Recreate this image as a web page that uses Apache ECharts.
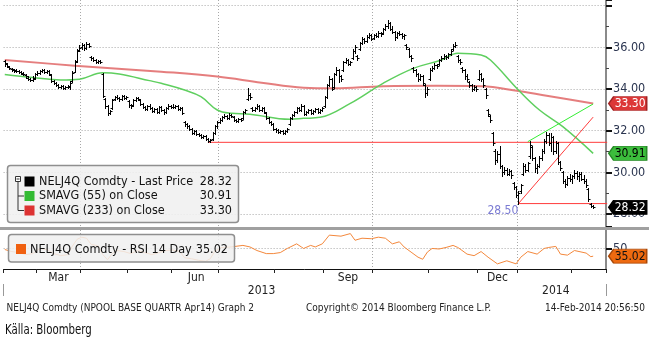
<!DOCTYPE html>
<html><head><meta charset="utf-8">
<script src="https://cdn.jsdelivr.net/npm/echarts@6/dist/echarts.min.js"></script>
<style>html,body{margin:0;padding:0;background:#fff}#c{width:649px;height:340px}</style>
</head><body><div id="c"></div>
<script>
// ---- calendar (trading days per month) ----
const monthNames = ['Feb','Mar','Apr','May','Jun','Jul','Aug','Sep','Oct','Nov','Dec','Jan','Feb'];
const monthYears = [2013,2013,2013,2013,2013,2013,2013,2013,2013,2013,2013,2014,2014];
const monthDays  = [14,19,20,19,20,24,21,21,24,21,17,23,10];
const padDays = 5;
const labelMonths = ['Mar','Jun','Sep','Dec'];
const gridQuarterMonths = ['Apr','Jul','Oct','Jan'];
const yearLabels = ['2013','2014'];

// ---- daily bars [open, high, low, close] ----
const feb13 = [[35.35,35.4,35.1,35.25],[35.2,35.25,35.05,35.1],[35.05,35.1,34.95,35.0],[34.95,35.0,34.85,34.95],[34.9,34.95,34.8,34.9],[34.85,34.95,34.8,34.85],[34.85,34.9,34.75,34.8],[34.8,34.85,34.7,34.75],[34.7,34.8,34.65,34.7],[34.65,34.7,34.55,34.6],[34.55,34.6,34.45,34.5],[34.5,34.55,34.4,34.45],[34.45,34.6,34.4,34.5],[34.55,34.75,34.5,34.7]];
const mar13 = [[34.7,34.85,34.65,34.75],[34.75,34.9,34.7,34.85],[34.85,34.95,34.8,34.9],[34.9,34.95,34.75,34.8],[34.8,34.9,34.75,34.85],[34.85,34.9,34.65,34.7],[34.65,34.7,34.35,34.4],[34.4,34.45,34.25,34.3],[34.3,34.35,34.15,34.2],[34.2,34.25,34.05,34.1],[34.1,34.2,34.05,34.15],[34.15,34.2,34.0,34.05],[34.05,34.15,34.0,34.1],[34.1,34.2,34.05,34.15],[34.1,34.4,34.0,34.3],[34.4,34.85,34.35,34.75],[34.8,35.4,34.8,35.3],[35.35,35.9,35.3,35.8],[35.85,36.1,35.8,35.95]];
const apr13 = [[36.0,36.2,35.9,36.1],[36.1,36.15,35.85,35.95],[35.95,36.25,35.9,36.15],[36.15,36.2,36.0,36.05],[35.55,35.6,35.4,35.5],[35.5,35.55,35.35,35.4],[35.4,35.45,35.25,35.3],[35.3,35.4,35.25,35.35],[35.35,35.4,35.25,35.3],[34.7,34.75,33.6,33.65],[33.5,33.55,33.1,33.2],[33.2,33.25,32.75,32.85],[32.85,33.0,32.8,32.95],[33.1,33.5,33.05,33.45],[33.5,33.65,33.45,33.6],[33.6,33.7,33.5,33.55],[33.55,33.6,33.4,33.5],[33.5,33.7,33.45,33.65],[33.65,33.7,33.5,33.55],[33.55,33.65,33.5,33.6]];
const may13 = [[33.4,33.45,33.15,33.25],[33.25,33.3,33.1,33.2],[33.25,33.5,33.2,33.45],[33.45,33.6,33.4,33.55],[33.55,33.6,33.45,33.5],[33.45,33.5,33.25,33.3],[33.3,33.35,33.1,33.15],[33.15,33.2,33.0,33.05],[33.05,33.25,33.0,33.2],[33.2,33.3,33.05,33.1],[33.1,33.15,32.9,32.95],[32.95,33.1,32.9,33.05],[33.05,33.1,32.85,32.9],[32.9,33.2,32.85,33.15],[33.15,33.2,32.95,33.0],[33.0,33.05,32.8,32.9],[32.9,33.15,32.85,33.1],[33.1,33.3,33.05,33.2],[33.2,33.25,33.1,33.15]];
const jun13 = [[33.15,33.3,33.1,33.15],[33.15,33.25,33.1,33.2],[33.2,33.25,33.0,33.05],[33.05,33.15,33.0,33.1],[33.1,33.15,32.8,32.85],[32.4,32.45,32.2,32.3],[32.3,32.35,32.15,32.2],[32.2,32.25,32.05,32.1],[32.1,32.15,31.85,31.9],[31.9,32.05,31.85,32.0],[32.0,32.05,31.8,31.85],[31.85,31.9,31.75,31.8],[31.8,31.85,31.65,31.7],[31.7,31.8,31.65,31.75],[31.75,31.8,31.55,31.6],[31.6,31.65,31.45,31.5],[31.5,31.6,31.45,31.55],[31.6,31.95,31.55,31.9],[31.9,32.25,31.85,32.2],[32.2,32.45,32.15,32.4]];
const jul13 = [[32.4,32.6,32.35,32.5],[32.5,32.7,32.45,32.65],[32.65,32.8,32.6,32.7],[32.7,32.75,32.55,32.6],[32.6,32.85,32.55,32.75],[32.75,32.8,32.65,32.7],[32.65,32.7,32.45,32.5],[32.5,32.55,32.4,32.45],[32.45,32.6,32.4,32.55],[32.55,32.6,32.45,32.5],[32.6,32.95,32.55,32.9],[32.9,33.05,32.85,33.0],[33.5,34.05,33.45,33.7],[33.7,33.8,33.5,33.6],[33.1,33.15,32.95,33.0],[33.0,33.15,32.95,33.1],[33.1,33.3,33.05,33.2],[33.2,33.25,32.95,33.0],[33.0,33.15,32.95,33.1],[33.1,33.15,32.85,32.9],[32.85,32.9,32.55,32.6],[32.6,32.65,32.35,32.4],[32.4,32.45,32.25,32.3],[32.3,32.35,32.05,32.1]];
const aug13 = [[32.1,32.15,31.95,32.05],[32.05,32.1,31.9,31.95],[31.95,32.05,31.9,32.0],[32.0,32.05,31.85,31.9],[31.9,32.05,31.85,32.0],[32.0,32.15,31.95,32.1],[32.3,32.65,32.25,32.6],[32.6,32.8,32.55,32.75],[32.75,32.95,32.7,32.9],[32.9,33.15,32.85,33.1],[33.1,33.15,32.95,33.0],[33.0,33.3,32.95,33.2],[33.2,33.25,32.75,32.8],[32.8,32.95,32.75,32.9],[32.9,33.05,32.85,33.0],[33.0,33.05,32.8,32.85],[32.85,33.0,32.8,32.95],[32.95,33.1,32.9,33.05],[33.05,33.1,32.85,32.9],[32.9,33.05,32.85,33.0],[33.0,33.15,32.95,33.1]];
const sep13 = [[33.2,33.65,33.15,33.6],[33.6,34.25,33.55,34.2],[34.2,34.6,34.15,34.5],[34.5,34.55,33.95,34.0],[34.1,34.75,34.05,34.7],[34.7,35.05,34.65,34.9],[34.9,34.95,34.35,34.6],[34.6,34.65,34.4,34.5],[34.9,35.35,34.85,35.3],[35.3,35.5,35.25,35.4],[35.4,35.45,35.15,35.2],[35.2,35.35,35.15,35.3],[35.5,35.9,35.45,35.8],[35.8,36.1,35.75,36.0],[35.6,35.65,35.4,35.5],[35.9,36.25,35.85,36.2],[36.2,36.5,36.15,36.4],[36.4,36.45,36.2,36.3],[36.3,36.6,36.25,36.5],[36.5,36.7,36.45,36.6],[36.6,36.65,36.35,36.4]];
const oct13 = [[36.45,36.65,36.4,36.6],[36.6,36.7,36.5,36.55],[36.55,36.8,36.5,36.7],[36.7,36.75,36.55,36.65],[36.7,36.95,36.65,36.9],[36.9,37.1,36.85,37.0],[37.0,37.3,36.95,37.15],[37.15,37.2,36.85,36.9],[36.9,37.0,36.7,36.75],[36.75,36.8,36.35,36.5],[36.5,36.75,36.45,36.7],[36.7,36.8,36.6,36.65],[36.65,36.7,36.45,36.55],[36.55,36.65,36.4,36.6],[36.1,36.15,35.9,36.0],[35.9,35.95,35.55,35.6],[35.6,35.65,35.35,35.5],[35.0,35.05,34.8,34.9],[34.9,34.95,34.6,34.7],[34.7,34.75,34.4,34.5],[34.5,34.7,34.45,34.6],[34.6,34.65,34.2,34.3],[34.2,34.25,33.6,33.8],[33.8,34.1,33.7,34.0]];
const nov13 = [[34.5,35.0,34.45,34.9],[34.9,35.1,34.85,35.0],[35.0,35.25,34.95,35.15],[35.15,35.2,35.0,35.1],[35.2,35.45,35.15,35.4],[35.4,35.6,35.35,35.5],[35.5,35.7,35.45,35.6],[35.6,35.65,35.45,35.55],[35.55,35.75,35.5,35.7],[35.7,35.9,35.65,35.8],[35.9,36.15,35.85,36.05],[36.05,36.25,36.0,36.1],[35.6,35.65,35.3,35.4],[35.4,35.45,35.2,35.3],[35.0,35.05,34.8,34.9],[34.9,34.95,34.5,34.6],[34.6,34.7,34.4,34.5],[34.35,34.4,34.1,34.2],[34.2,34.25,33.9,34.0],[34.0,34.2,33.95,34.1],[34.1,34.15,33.9,34.0]];
const dec13 = [[34.5,34.9,34.45,34.7],[34.7,34.75,34.4,34.5],[34.5,34.55,34.1,34.2],[34.0,34.05,33.55,33.7],[33.0,33.05,32.7,32.8],[32.7,32.75,32.4,32.5],[31.9,31.95,31.3,31.4],[31.0,31.1,30.4,30.6],[30.6,31.0,30.5,30.9],[30.9,31.25,30.2,30.3],[30.3,30.35,29.8,30.0],[30.0,30.25,29.9,30.1],[30.1,30.2,29.85,29.9],[29.9,30.15,29.85,30.05],[30.05,30.1,29.75,29.85],[29.5,29.55,29.2,29.3],[29.3,29.35,28.8,28.9]];
const jan14 = [[28.9,29.1,28.5,29.0],[29.1,29.45,29.0,29.4],[29.9,30.45,29.85,30.3],[30.3,30.4,30.0,30.1],[30.1,30.5,30.05,30.45],[30.8,31.5,30.7,31.3],[31.2,31.25,30.6,30.7],[30.7,30.75,30.0,30.2],[30.2,30.4,29.95,30.3],[30.3,30.8,30.25,30.7],[30.7,31.1,30.6,31.0],[31.0,31.6,30.95,31.5],[31.5,31.95,31.4,31.8],[31.8,31.9,31.3,31.4],[31.4,31.9,31.0,31.7],[31.7,31.75,30.9,31.0],[31.0,31.5,30.95,31.4],[31.4,31.45,30.4,30.5],[30.5,30.55,30.1,30.2],[30.0,30.05,29.5,29.6],[29.6,29.7,29.3,29.45],[29.45,29.8,29.4,29.75],[29.75,29.9,29.6,29.7]];
const feb14 = [[29.7,29.85,29.5,29.8],[29.8,30.1,29.75,29.95],[29.95,30.05,29.7,29.8],[29.8,30.0,29.6,29.9],[29.9,30.0,29.65,29.7],[29.7,29.85,29.5,29.6],[29.6,29.7,29.3,29.4],[29.2,29.25,28.6,28.7],[28.5,28.55,28.35,28.4],[28.4,28.45,28.3,28.32]];

// ---- moving averages [dayIndex, value] ----
const sma55 = [[0,34.70],[12,34.55],[24,34.43],[32,34.47],[42,34.78],[49,34.72],[62,34.40],[67,34.27],[77,33.95],[84,33.63],[91,32.99],[97,32.83],[105,32.79],[122,32.55],[128,32.59],[135,32.64],[148,33.31],[162,34.27],[175,34.99],[187,35.39],[194,35.72],[204,35.63],[208,35.39],[220,33.95],[229,32.99],[239,32.19],[252,30.91]];
const sma233 = [[0,35.39],[30,35.12],[67,34.83],[91,34.60],[110,34.30],[128,34.06],[141,34.03],[162,34.13],[185,34.15],[204,34.13],[220,33.90],[236,33.60],[252,33.30]];

// ---- RSI 14 day [dayIndex, value] ----
const rsi14 = [[0,48],[3,44],[6,42],[9,38],[12,40],[15,50],[18,48],[21,40],[24,36],[27,38],[29,55],[31,68],[33,72],[35,70],[37,58],[40,55],[42,38],[44,28],[46,40],[48,46],[51,44],[54,40],[57,46],[60,42],[63,38],[66,42],[69,46],[72,47],[75,44],[77,32],[80,30],[83,27],[86,25],[88,30],[90,45],[93,52],[97,53],[102,56],[105,53],[108,46],[112,40],[115,40],[118,42],[121,50],[125,59],[127,53],[128,50],[131,56],[133,53],[136,59],[139,76],[144,74],[148,79],[150,66],[153,70],[157,69],[160,72],[163,70],[166,59],[169,63],[171,53],[174,43],[177,33],[179,29],[181,43],[183,50],[186,49],[189,52],[192,56],[194,52],[195,49],[198,39],[201,36],[204,44],[207,33],[211,20],[215,26],[219,20],[221,33],[224,44],[228,39],[231,50],[233,52],[236,54],[238,39],[241,37],[244,46],[249,41],[251,34],[252,35.02]];

// ---- drawn trend lines [dayIndex, value] ----
const resistanceLine = [[87,31.44],[258,31.44]];
const supportLine = [[220,28.5],[258,28.5]];
const risingRedLine = [[220,28.5],[252,32.65]];
const risingGreenLine = [[224,31.47],[252,33.28]];
const supportLabel = '28.50';

// ---- build categories ----
const categories = [];
const monthStart = {}, labelAt = {}, gridAt = {};
let idx = 0;
monthNames.forEach((m, k) => {
  monthStart[idx] = true;
  if (gridQuarterMonths.includes(m)) gridAt[idx] = true;
  if (labelMonths.includes(m)) labelAt[idx + Math.floor(monthDays[k] / 2)] = m;
  for (let d = 1; d <= monthDays[k]; d++) { categories.push(monthYears[k] + '-' + m + '-' + d); idx++; }
});
const nData = idx;
for (let p = 1; p <= padDays; p++) categories.push('pad' + p);
const yearStartIdx = {}, yearEndIdx = {};
let c = 0;
monthYears.forEach((y, k) => {
  if (yearStartIdx[y] === undefined) yearStartIdx[y] = c;
  c += monthDays[k]; yearEndIdx[y] = c - 1;
});
const yearLabelAt = {};
yearLabels.forEach(y => { yearLabelAt[Math.round((yearStartIdx[y] + yearEndIdx[y]) / 2)] = y; });
const yearSepIdx = yearStartIdx[2014];

const allBars = [].concat(feb13, mar13, apr13, may13, jun13, jul13, aug13, sep13, oct13, nov13, dec13, jan14, feb14);
const barData = allBars.map((r, i) => [i, r[0], r[1], r[2], r[3]]);
const lastClose = allBars[allBars.length - 1][3];
const lastSma55 = sma55[sma55.length - 1][1];
const lastSma233 = sma233[sma233.length - 1][1];
const lastRsi = rsi14[rsi14.length - 1][1];
const lastIdx = nData - 1;

const FONT = 'DejaVu Sans Condensed, DejaVu Sans, sans-serif';

function renderBar(params, api) {
  const i = api.value(0);
  const pO = api.coord([i, api.value(1)]);
  const pH = api.coord([i, api.value(2)]);
  const pL = api.coord([i, api.value(3)]);
  const pC = api.coord([i, api.value(4)]);
  const x = Math.round(pO[0]) + 0.5;
  const st = { stroke: '#000', lineWidth: 1 };
  const yo = Math.round(pO[1]) + 0.5, yc = Math.round(pC[1]) + 0.5;
  return { type: 'group', children: [
    { type: 'line', shape: { x1: x, y1: Math.round(pH[1]), x2: x, y2: Math.round(pL[1]) + 1 }, style: st },
    { type: 'line', shape: { x1: x - 2, y1: yo, x2: x, y2: yo }, style: st },
    { type: 'line', shape: { x1: x, y1: yc, x2: x + 2, y2: yc }, style: st }
  ]};
}

function tag(value, coordY, fill, stroke, textColor) {
  return {
    coord: [lastIdx, coordY], value: value,
    symbol: 'path://M0,7L5,0L38,0L38,14L5,14Z', symbolSize: [38, 14], symbolKeepAspect: false,
    symbolOffset: [34.5, 0],
    itemStyle: { color: fill, borderColor: stroke, borderWidth: 1 },
    label: { show: true, position: 'inside', offset: [2.5, 0.5], formatter: value.toFixed(2), color: textColor, fontSize: 12, fontFamily: FONT }
  };
}

const gridLine = { show: true, lineStyle: { color: '#a8a8a8', type: [1, 2], width: 1 } };

const option = {
  animation: false,
  backgroundColor: '#fff',
  grid: [
    { left: 3.6, right: 43, top: 0, height: 227 },
    { left: 3.6, right: 43, top: 230, height: 39 }
  ],
  xAxis: [
    { type: 'category', gridIndex: 0, data: categories, boundaryGap: true,
      axisLine: { show: false }, axisTick: { show: false }, axisLabel: { show: false },
      splitLine: Object.assign({ interval: (i) => !!gridAt[i] }, gridLine) },
    { type: 'category', gridIndex: 1, data: categories, boundaryGap: true,
      axisLine: { show: true, lineStyle: { color: '#111', width: 1 } },
      axisTick: { show: true, interval: (i) => !!monthStart[i], length: 4, lineStyle: { color: '#222' } },
      axisLabel: { show: true, interval: (i) => labelAt[i] !== undefined, formatter: (v, i) => labelAt[i] || '',
        margin: 3, fontSize: 12, color: '#222', fontFamily: FONT },
      splitLine: Object.assign({ interval: (i) => !!gridAt[i] }, gridLine) },
    { type: 'category', gridIndex: 1, data: categories, boundaryGap: true, offset: 15, position: 'bottom',
      axisLine: { show: false },
      axisTick: { show: true, interval: (i) => i === yearSepIdx, length: 12, lineStyle: { color: '#999' } },
      axisLabel: { show: true, interval: (i) => yearLabelAt[i] !== undefined, formatter: (v, i) => yearLabelAt[i] || '',
        margin: 1, fontSize: 12, color: '#222', fontFamily: FONT },
      splitLine: { show: false } }
  ],
  yAxis: [
    { type: 'value', gridIndex: 0, position: 'right', min: 27.376, max: 38.27, minInterval: 2, maxInterval: 2,
      axisLine: { show: true, lineStyle: { color: '#8a8a8a', width: 2 } },
      axisTick: { show: true, length: 6, lineStyle: { color: '#111', width: 2 } },
      minorTick: { show: true, splitNumber: 2, length: 3, lineStyle: { color: '#444' } },
      axisLabel: { showMinLabel: false, showMaxLabel: false, margin: 7, fontSize: 12.5, color: '#2b3550', fontFamily: FONT,
        formatter: (v) => (v >= 37.9 ? '' : v.toFixed(2)) },
      splitLine: { show: true, showMinLine: false, showMaxLine: false, lineStyle: { color: '#a8a8a8', type: [1, 2] } } },
    { type: 'value', gridIndex: 1, position: 'right', min: 10, max: 86, minInterval: 50, maxInterval: 50,
      axisLine: { show: true, lineStyle: { color: '#8a8a8a', width: 2 } },
      axisTick: { show: true, length: 6, lineStyle: { color: '#111', width: 2 } },
      axisLabel: { showMinLabel: false, showMaxLabel: false, margin: 7, fontSize: 12.5, color: '#2b3550', fontFamily: FONT },
      splitLine: { show: true, showMinLine: false, showMaxLine: false, lineStyle: { color: '#a8a8a8', type: [1, 2] } } }
  ],
  series: [
    { name: 'SMAVG (233)', type: 'line', xAxisIndex: 0, yAxisIndex: 0, data: sma233, smooth: 0.4, showSymbol: false,
      lineStyle: { color: '#e27070', width: 2, opacity: 0.9 }, z: 2,
      markPoint: { data: [tag(lastSma233, lastSma233, '#dc3838', '#a02424', '#fff')] } },
    { name: 'SMAVG (55)', type: 'line', xAxisIndex: 0, yAxisIndex: 0, data: sma55, smooth: 0.4, showSymbol: false,
      lineStyle: { color: '#5fcf5f', width: 1.5 }, z: 2,
      markPoint: { data: [tag(lastSma55, lastSma55, '#3cbd3c', '#268a26', '#000'), tag(lastClose, lastClose, '#000', '#000', '#fff')] } },
    { name: 'Resistance', type: 'line', xAxisIndex: 0, yAxisIndex: 0, data: resistanceLine, showSymbol: false,
      lineStyle: { color: '#ff3b3b', width: 1 }, z: 3 },
    { name: 'Support', type: 'line', xAxisIndex: 0, yAxisIndex: 0, data: supportLine, showSymbol: false,
      lineStyle: { color: '#ff3b3b', width: 1 }, z: 3,
      markPoint: { data: [{ coord: supportLine[0], symbolSize: 0,
        label: { show: true, position: [-31, 1], formatter: supportLabel, color: '#7b7bd3', fontSize: 12, fontFamily: FONT } }] } },
    { name: 'Rising red', type: 'line', xAxisIndex: 0, yAxisIndex: 0, data: risingRedLine, showSymbol: false,
      lineStyle: { color: '#ff3b3b', width: 1 }, z: 3 },
    { name: 'Rising green', type: 'line', xAxisIndex: 0, yAxisIndex: 0, data: risingGreenLine, showSymbol: false,
      lineStyle: { color: '#33ee33', width: 1 }, z: 3 },
    { name: 'Last Price', type: 'custom', xAxisIndex: 0, yAxisIndex: 0, data: barData, renderItem: renderBar,
      encode: { x: 0, y: [1, 2, 3, 4] }, clip: true, z: 4 },
    { name: 'RSI', type: 'line', xAxisIndex: 1, yAxisIndex: 1, data: rsi14, showSymbol: false,
      lineStyle: { color: '#f4883c', width: 1 }, z: 2,
      markPoint: { data: [tag(lastRsi, lastRsi, '#ee6a10', '#a84808', '#111')] } }
  ],
  graphic: [
    { type: 'line', shape: { x1: 0, y1: 228.5, x2: 649, y2: 228.5 }, style: { stroke: '#a0a0a0', lineWidth: 3 }, z: 50 },
    // main legend
    { type: 'rect', shape: { x: 7.5, y: 165.5, width: 231, height: 57, r: 3 }, style: { fill: 'rgba(240,240,240,0.88)', stroke: '#8f8f8f', lineWidth: 1.5 }, z: 100 },
    { type: 'rect', shape: { x: 15.5, y: 176.5, width: 5, height: 5 }, style: { fill: '#fff', stroke: '#333', lineWidth: 1 }, z: 101 },
    { type: 'line', shape: { x1: 16.5, y1: 179, x2: 19.5, y2: 179 }, style: { stroke: '#333', lineWidth: 1 }, z: 101 },
    { type: 'line', shape: { x1: 18, y1: 181.5, x2: 18, y2: 210.5 }, style: { stroke: '#333', lineWidth: 1 }, z: 101 },
    { type: 'line', shape: { x1: 18, y1: 196, x2: 24, y2: 196 }, style: { stroke: '#333', lineWidth: 1 }, z: 101 },
    { type: 'line', shape: { x1: 18, y1: 210.5, x2: 24, y2: 210.5 }, style: { stroke: '#333', lineWidth: 1 }, z: 101 },
    { type: 'rect', shape: { x: 24.5, y: 176.5, width: 10, height: 10 }, style: { fill: '#000' }, z: 101 },
    { type: 'rect', shape: { x: 24.5, y: 191, width: 10, height: 10 }, style: { fill: '#33bb33' }, z: 101 },
    { type: 'rect', shape: { x: 24.5, y: 205.5, width: 10, height: 10 }, style: { fill: '#dd3333' }, z: 101 },
    { type: 'text', x: 39, y: 181.5, style: { text: 'NELJ4Q Comdty - Last Price', fill: '#111', font: '12.5px ' + FONT, verticalAlign: 'middle' }, z: 101 },
    { type: 'text', x: 39, y: 196, style: { text: 'SMAVG (55) on Close', fill: '#111', font: '12.5px ' + FONT, verticalAlign: 'middle' }, z: 101 },
    { type: 'text', x: 39, y: 210.5, style: { text: 'SMAVG (233) on Close', fill: '#111', font: '12.5px ' + FONT, verticalAlign: 'middle' }, z: 101 },
    { type: 'text', x: 232, y: 181.5, style: { text: lastClose.toFixed(2), fill: '#111', font: '12.5px ' + FONT, align: 'right', verticalAlign: 'middle' }, z: 101 },
    { type: 'text', x: 232, y: 196, style: { text: lastSma55.toFixed(2), fill: '#111', font: '12.5px ' + FONT, align: 'right', verticalAlign: 'middle' }, z: 101 },
    { type: 'text', x: 232, y: 210.5, style: { text: lastSma233.toFixed(2), fill: '#111', font: '12.5px ' + FONT, align: 'right', verticalAlign: 'middle' }, z: 101 },
    // RSI legend
    { type: 'rect', shape: { x: 8.5, y: 234.5, width: 226, height: 27.5, r: 3 }, style: { fill: 'rgba(240,240,240,0.85)', stroke: '#8f8f8f', lineWidth: 1.5 }, z: 100 },
    { type: 'rect', shape: { x: 16, y: 244, width: 10, height: 10 }, style: { fill: '#f06010' }, z: 101 },
    { type: 'text', x: 30, y: 249.5, style: { text: 'NELJ4Q Comdty - RSI 14 Day', fill: '#111', font: '12.5px ' + FONT, verticalAlign: 'middle' }, z: 101 },
    { type: 'text', x: 228, y: 249.5, style: { text: lastRsi.toFixed(2), fill: '#111', font: '12.5px ' + FONT, align: 'right', verticalAlign: 'middle' }, z: 101 },
    // footer
    { type: 'text', x: 6.5, y: 308, style: { text: 'NELJ4Q Comdty (NPOOL BASE QUARTR Apr14) Graph 2', fill: '#222', font: '10px ' + FONT, verticalAlign: 'middle' } },
    { type: 'text', x: 306, y: 308, style: { text: 'Copyright\u00a9 2014 Bloomberg Finance L.P.', fill: '#222', font: '10px ' + FONT, verticalAlign: 'middle' } },
    { type: 'text', x: 645, y: 308, style: { text: '14-Feb-2014 20:56:50', fill: '#222', font: '10px ' + FONT, align: 'right', verticalAlign: 'middle' } },
    { type: 'text', x: 5, y: 330.5, scaleX: 0.81, style: { text: 'Källa: Bloomberg', fill: '#111', font: '14px ' + FONT, verticalAlign: 'middle' } }
  ]
};

const chart = echarts.init(document.getElementById('c'), null, { renderer: 'canvas' });
chart.setOption(option);
</script></body></html>
